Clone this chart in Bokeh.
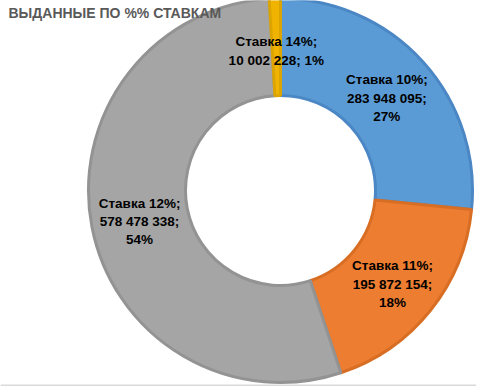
import math
from bokeh.plotting import figure
from bokeh.models import Range1d, ColumnDataSource, Span
from bokeh.core.properties import value
from bokeh.embed import file_html
from bokeh.resources import INLINE

# ---- data ----
title_text = "ВЫДАННЫЕ ПО %% СТАВКАМ"
categories = ["Ставка 10%", "Ставка 11%", "Ставка 12%", "Ставка 14%"]
amounts = [283948095, 195872154, 578478338, 10002228]
fill_colors = ["#5B9BD5", "#ED7D31", "#A5A5A5", "#F0B400"]
line_colors = ["#4A87C4", "#D86D24", "#939393", "#DCA400"]
single_line = [False, False, False, True]

# ---- layout (figure pixel space) ----
W, H = 476, 386
cx, cy = 280, H - 190
R_out, R_in = 192, 95

total = sum(amounts)
def fmt(n):
    return f"{n:,}".replace(",", " ")

starts, ends, lx, ly, labels = [], [], [], [], []
cum = 0.0
for cat, a, one in zip(categories, amounts, single_line):
    frac = a / total
    s = math.pi / 2 - 2 * math.pi * cum
    e = math.pi / 2 - 2 * math.pi * (cum + frac)
    starts.append(s)
    ends.append(e)
    mid = (s + e) / 2
    rm = (R_out + R_in) / 2
    lx.append(cx + rm * math.cos(mid))
    ly.append(cy + rm * math.sin(mid) - 4)
    pct = f"{round(frac * 100)}%"
    if one:
        labels.append(f"{cat};\n{fmt(a)}; {pct}")
    else:
        labels.append(f"{cat};\n{fmt(a)};\n{pct}")
    cum += frac

src = ColumnDataSource(dict(start=starts, end=ends, fill=fill_colors, line=line_colors,
                            x=[cx] * len(amounts), y=[cy] * len(amounts)))
lab = ColumnDataSource(dict(x=lx, y=ly, text=labels))

p = figure(width=W, height=H, output_backend="svg", toolbar_location=None,
           x_range=Range1d(0, W), y_range=Range1d(0, H), min_border=0)
p.axis.visible = False
p.grid.visible = False
p.outline_line_color = None
p.background_fill_color = "white"

p.annular_wedge(x="x", y="y", inner_radius=R_in, outer_radius=R_out,
                start_angle="start", end_angle="end", direction="clock",
                fill_color="fill", line_color="line", line_width=3, source=src)

p.text(x="x", y="y", text="text", source=lab, text_align="center",
       text_baseline="middle", text_font=value("Liberation Sans"),
       text_font_style="bold", text_font_size="13.5px", text_color="#000000",
       text_line_height=1.22)

p.text(x=[8], y=[H - 4], text=[title_text], text_align="left", text_baseline="top",
       text_font=value("Liberation Sans"), text_font_style="bold",
       text_font_size="14px", text_color="#595959")

p.add_layout(Span(location=H - 385, dimension="width", line_color="#D9D9D9", line_width=2))

open("out.html", "w").write(file_html(p, INLINE))
